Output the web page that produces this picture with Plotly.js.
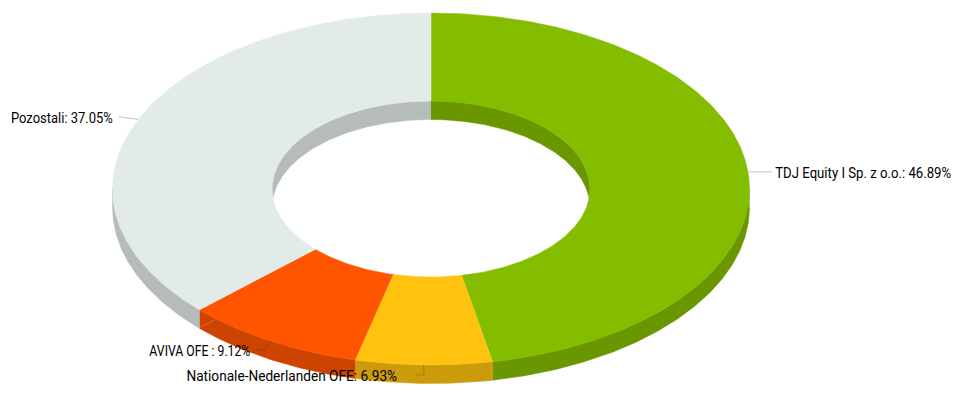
<!DOCTYPE html>
<html><head><meta charset="utf-8">
<script src="https://cdn.plot.ly/plotly-3.0.1.min.js"></script>
<style>html,body{margin:0;padding:0;background:#fff}#c{width:966px;height:400px}</style>
</head><body><div id="c"></div>
<script>
const names = ["TDJ Equity I Sp. z o.o.", "Nationale-Nederlanden OFE", "AVIVA OFE ", "Pozostali"];
const shares = [46.89, 6.93, 9.12, 37.05];
const topColors = ["#84bd00", "#ffc20e", "#ff5500", "#e3ebe9"];
const wallColors = ["#6a9700", "#cc9b0b", "#cc4400", "#b6bcba"];

// Projection of the tilted ring
const cx = 431, cy = 189, rxO = 318.5, ryO = 176, rxI = 159, ryI = 88, depth = 18.5;
const pt = (rx, ry, deg, dy) => [cx + rx * Math.sin(deg * Math.PI / 180), cy - ry * Math.cos(deg * Math.PI / 180) + (dy || 0)];
function arc(rx, ry, a, b, dy) {
  const n = Math.max(2, Math.ceil(Math.abs(b - a) * 1.5)), out = [];
  for (let i = 0; i <= n; i++) out.push(pt(rx, ry, a + (b - a) * i / n, dy));
  return out;
}
const total = shares.reduce((s, v) => s + v, 0);
let acc = 0;
const slices = shares.map((v, i) => { const a = acc / total * 360; acc += v; return {a, b: acc / total * 360, i}; });

function poly(points, color) {
  return {type: "scatter", mode: "lines", x: points.map(p => p[0]), y: points.map(p => p[1]),
    fill: "toself", fillcolor: color, line: {width: 0.5, color: color}, hoverinfo: "skip", showlegend: false};
}
const traces = [];
// Inner wall (visible through the hole)
const thI = Math.acos(-depth / (2 * ryI)) * 180 / Math.PI;
const phI = Math.acos(depth / (2 * ryI)) * 180 / Math.PI;
traces.push(poly(arc(rxI, ryI, -thI, 0).concat(arc(rxI, ryI, 0, -phI, depth)), wallColors[3]));
traces.push(poly(arc(rxI, ryI, 0, thI).concat(arc(rxI, ryI, phI, 0, depth)), wallColors[0]));
// Outer wall (front half)
slices.forEach(s => {
  const a = Math.max(s.a, 90), b = Math.min(s.b, 270);
  if (b > a) traces.push(poly(arc(rxO, ryO, a, b).concat(arc(rxO, ryO, b, a, depth)), wallColors[s.i]));
});
// Top faces
slices.forEach(s => traces.push(poly(arc(rxO, ryO, s.a, s.b).concat(arc(rxI, ryI, s.b, s.a)), topColors[s.i])));

// Labels: connector bends relative to each slice's mid point; text centre and drawn width
const bends = [[[24, 0]], [[0, 10], [-8, 10]], [[-6, 9], [-16, 9]], [[-20, -2.5]]];
const textAt = [[863, 172.5, 176], [291.5, 375.5, 211], [199.5, 351, 101], [62, 118, 102]];
const annotations = [];
slices.forEach(s => {
  const m = pt(rxO, ryO, (s.a + s.b) / 2);
  const pts = [m].concat(bends[s.i].map(o => [m[0] + o[0], m[1] + o[1]]));
  traces.push({type: "scatter", mode: "lines", x: pts.map(p => p[0]), y: pts.map(p => p[1]),
    line: {width: 1, color: "rgba(60,60,60,0.3)"}, hoverinfo: "skip", showlegend: false});
  const t = textAt[s.i];
  annotations.push({xref: "x", yref: "y", x: t[0], y: t[1], xanchor: "center", yanchor: "middle", showarrow: false,
    text: names[s.i] + ": " + shares[s.i].toFixed(2) + "%",
    font: {family: "Roboto, sans-serif", size: 15, color: "#000"}});
});
// Faint stroke on the wall of the AVIVA slice
const e = pt(rxO, ryO, slices[2].b, depth);
traces.push({type: "scatter", mode: "lines", x: [e[0], e[0] + 15], y: [e[1] - 1, e[1] - 8.5],
  line: {width: 1, color: "rgba(255,255,255,0.22)"}, hoverinfo: "skip", showlegend: false});

Plotly.newPlot("c", traces, {
  width: 966, height: 400, margin: {l: 0, r: 0, t: 0, b: 0},
  paper_bgcolor: "#fff", plot_bgcolor: "#fff", showlegend: false,
  xaxis: {range: [0, 966], visible: false, fixedrange: true},
  yaxis: {range: [400, 0], visible: false, fixedrange: true},
  annotations
}, {displayModeBar: false, staticPlot: true}).then(() => {
  // Narrow the labels to the condensed width of the original typeface
  document.querySelectorAll("#c .annotation-text").forEach((el, i) => {
    const k = textAt[i][2] / el.getComputedTextLength();
    const px = parseFloat(el.getAttribute("x")) || 0;
    el.setAttribute("transform", `translate(${px} 0) scale(${k} 1) translate(${-px} 0)`);
  });
});
</script></body></html>
